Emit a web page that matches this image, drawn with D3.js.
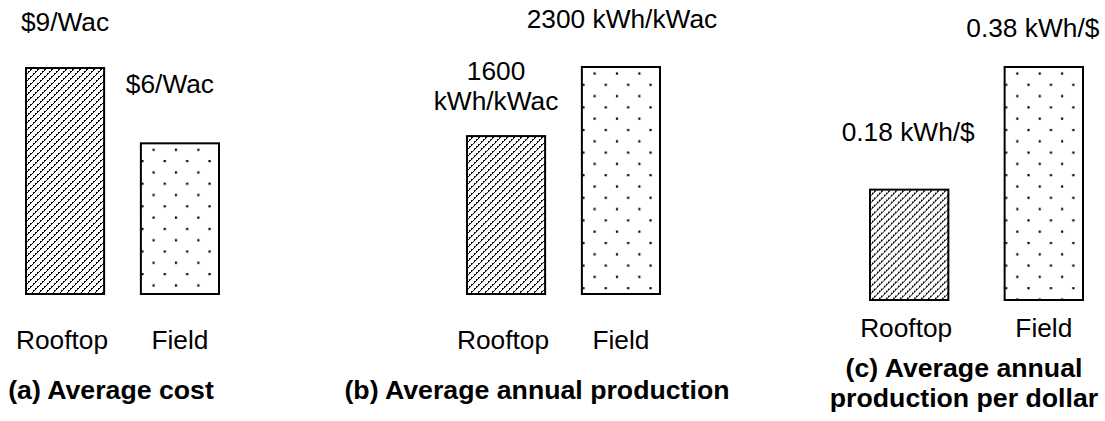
<!DOCTYPE html>
<html>
<head>
<meta charset="utf-8">
<script src="https://cdn.jsdelivr.net/npm/d3@7"></script>
<style>
  html, body { margin: 0; padding: 0; background: #fff; }
  svg { display: block; }
  text { font-family: "Liberation Sans", Arial, Helvetica, sans-serif; fill: #000; }
</style>
</head>
<body>
<svg id="chart" width="1105" height="421"></svg>
<script>
// Site categories shared by all three panels
const categories = ["Rooftop", "Field"];

// Panel values
const costValues = [9, 6];                 // $/Wac
const productionValues = [1600, 2300];     // kWh/kWac per year
const perDollarValues = [0.18, 0.38];      // kWh/$

// Value labels (each line of a label is an entry)
const costLabels = [["$9/Wac"], ["$6/Wac"]];
const productionLabels = [["1600", "kWh/kWac"], ["2300 kWh/kWac"]];
const perDollarLabels = [["0.18 kWh/$"], ["0.38 kWh/$"]];

// Panel captions
const captionA = ["(a) Average cost"];
const captionB = ["(b) Average annual production"];
const captionC = ["(c) Average annual", "production per dollar"];

const svg = d3.select("#chart");
const defs = svg.append("defs");
const FONT = 26.3;
const BOLD_FONT = 26.7;
const LINE_GAP = 30;

const panels = [
  {
    values: costValues, labels: costLabels, caption: captionA,
    xRange: [26, 219], pad: 0.32, base: 294, top: 68, max: 9,
    catY: 349, capX: 111, capY: 399,
    labelOff: [{dx: 0, dy: 37}, {dx: -10, dy: 50}]
  },
  {
    values: productionValues, labels: productionLabels, caption: captionB,
    xRange: [467, 660], pad: 0.32, base: 294, top: 67, max: 2300,
    catY: 349, capX: 537, capY: 399,
    labelOff: [{dx: -10, dy: 26}, {dx: 1, dy: 39}]
  },
  {
    values: perDollarValues, labels: perDollarLabels, caption: captionC,
    xRange: [870, 1083], pad: 0.418, base: 300, top: 67, max: 0.38,
    catY: 337, capX: 964, capY: 377,
    labelOff: [{dx: -1, dy: 49}, {dx: -11, dy: 30}]
  }
];

let patId = 0;

// Diagonal hatch for rooftop bars
function hatchPattern(x0, y0) {
  const id = "pat" + (patId++);
  const s = 7;
  const p = defs.append("pattern")
    .attr("id", id)
    .attr("patternUnits", "userSpaceOnUse")
    .attr("x", x0).attr("y", y0)
    .attr("width", s).attr("height", s);
  p.append("rect").attr("width", s).attr("height", s).attr("fill", "#fff");
  const segs = [[0, s, s, 0], [-s, s, 0, 0], [s, s * 2, s * 2, s]];
  segs.forEach(([a, b, c, d]) => {
    p.append("line")
      .attr("x1", a).attr("y1", b).attr("x2", c).attr("y2", d)
      .attr("stroke", "#000")
      .attr("stroke-width", 1.4)
      .attr("stroke-dasharray", "2.2 0.8")
      .attr("shape-rendering", "crispEdges");
  });
  return id;
}

// Staggered dot grid for field bars
function dotPattern(x0, y0) {
  const id = "pat" + (patId++);
  const w = 22.4, h = 22.6;
  const p = defs.append("pattern")
    .attr("id", id)
    .attr("patternUnits", "userSpaceOnUse")
    .attr("x", x0).attr("y", y0)
    .attr("width", w).attr("height", h);
  p.append("rect").attr("width", w).attr("height", h).attr("fill", "#fff");
  [[12.6, 6.4], [1.4, 17.7]].forEach(([cx, cy]) => {
    p.append("rect")
      .attr("x", cx - 1).attr("y", cy - 1)
      .attr("width", 2.2).attr("height", 2.2)
      .attr("fill", "#000");
  });
  return id;
}

panels.forEach(pn => {
  const x = d3.scaleBand()
    .domain(categories)
    .range(pn.xRange)
    .paddingInner(pn.pad)
    .paddingOuter(0);
  const y = d3.scaleLinear()
    .domain([0, pn.max])
    .range([pn.base, pn.top]);

  const g = svg.append("g");

  categories.forEach((cat, i) => {
    const v = pn.values[i];
    const bx = x(cat), bw = x.bandwidth();
    const by = y(v), bh = y(0) - y(v);
    const pid = i === 0 ? hatchPattern(bx, by) : dotPattern(bx, by);

    g.append("rect")
      .attr("x", bx).attr("y", by)
      .attr("width", bw).attr("height", bh)
      .attr("fill", `url(#${pid})`)
      .attr("stroke", "#000")
      .attr("stroke-width", 2);

    // value label above the bar
    const off = pn.labelOff[i];
    const lines = pn.labels[i];
    const cx = bx + bw / 2 + off.dx;
    const lastY = by - off.dy;
    lines.forEach((t, k) => {
      g.append("text")
        .attr("x", cx)
        .attr("y", lastY - (lines.length - 1 - k) * LINE_GAP)
        .attr("text-anchor", "middle")
        .style("font-size", FONT + "px")
        .text(t);
    });

    // category label under the bar
    g.append("text")
      .attr("x", bx + bw / 2 - (i === 0 ? 3 : 0))
      .attr("y", pn.catY)
      .attr("text-anchor", "middle")
      .style("font-size", FONT + "px")
      .text(cat);
  });

  pn.caption.forEach((t, k) => {
    g.append("text")
      .attr("x", pn.capX)
      .attr("y", pn.capY + k * LINE_GAP)
      .attr("text-anchor", "middle")
      .style("font-size", BOLD_FONT + "px")
      .style("font-weight", "bold")
      .text(t);
  });
});
</script>
</body>
</html>
